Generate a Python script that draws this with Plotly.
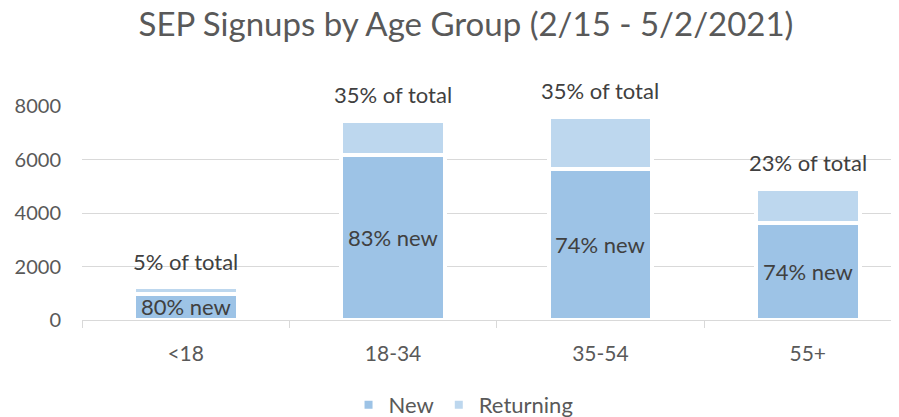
import plotly.graph_objects as go

categories = ["<18", "18-34", "35-54", "55+"]
new_vals = [980, 6170, 5640, 3640]
returning_vals = [245, 1270, 1950, 1265]
share_labels = ["5% of total", "35% of total", "35% of total", "23% of total"]
new_labels = ["80% new", "83% new", "74% new", "74% new"]

FONT = "Lato"
TXT = "#404040"
AX = "#595959"

# the page body adds an 8px offset; the figure is sized to fill the rest
W, H = 891, 409

fig = go.Figure()
fig.add_trace(go.Bar(
    x=categories, y=new_vals, name="New",
    marker=dict(color="#9dc3e6", line=dict(color="white", width=4)),
    width=0.5,
))
fig.add_trace(go.Bar(
    x=categories, y=returning_vals, name="Returning",
    marker=dict(color="#bdd7ee", line=dict(color="white", width=4)),
    width=0.5,
))

annotations = []
for c, n, r, s, nl in zip(categories, new_vals, returning_vals, share_labels, new_labels):
    annotations.append(dict(x=c, y=n + r, text=s, showarrow=False, yshift=26,
                            font=dict(family=FONT, size=22, color=TXT)))
    annotations.append(dict(x=c, y=n / 2, text=nl, showarrow=False,
                            font=dict(family=FONT, size=22, color=TXT)))

fig.update_layout(
    barmode="stack",
    width=W, height=H,
    margin=dict(l=74, r=0, t=98, b=97, autoexpand=False),
    plot_bgcolor="white", paper_bgcolor="white",
    title=dict(text="SEP Signups by Age Group (2/15 - 5/2/2021)",
               xref="container", x=0.514, xanchor="center",
               yref="container", y=0.988, yanchor="top",
               font=dict(family=FONT, size=33, color=AX)),
    font=dict(family=FONT, size=20, color=TXT),
    showlegend=True,
    legend=dict(orientation="h", x=0.467, xanchor="center", y=-0.397, yanchor="middle",
                font=dict(family=FONT, size=22, color=AX), traceorder="normal"),
    annotations=annotations,
)
fig.update_xaxes(
    type="category", range=[-0.5, 3.44], automargin=False,
    showline=True, linecolor="#d9d9d9", linewidth=1,
    ticks="outside", tickson="boundaries", ticklen=7, tickcolor="#d9d9d9",
    tickfont=dict(family=FONT, size=21, color=AX),
    ticklabelstandoff=15, showgrid=False,
)
fig.update_yaxes(
    range=[0, 8000], tickvals=[0, 2000, 4000, 6000, 8000], automargin=False,
    showgrid=True, gridcolor="#d9d9d9", gridwidth=1.3, zeroline=False,
    tickfont=dict(family=FONT, size=20, color=AX),
    ticklabelstandoff=20,
)

fig.write_html("out.html")
